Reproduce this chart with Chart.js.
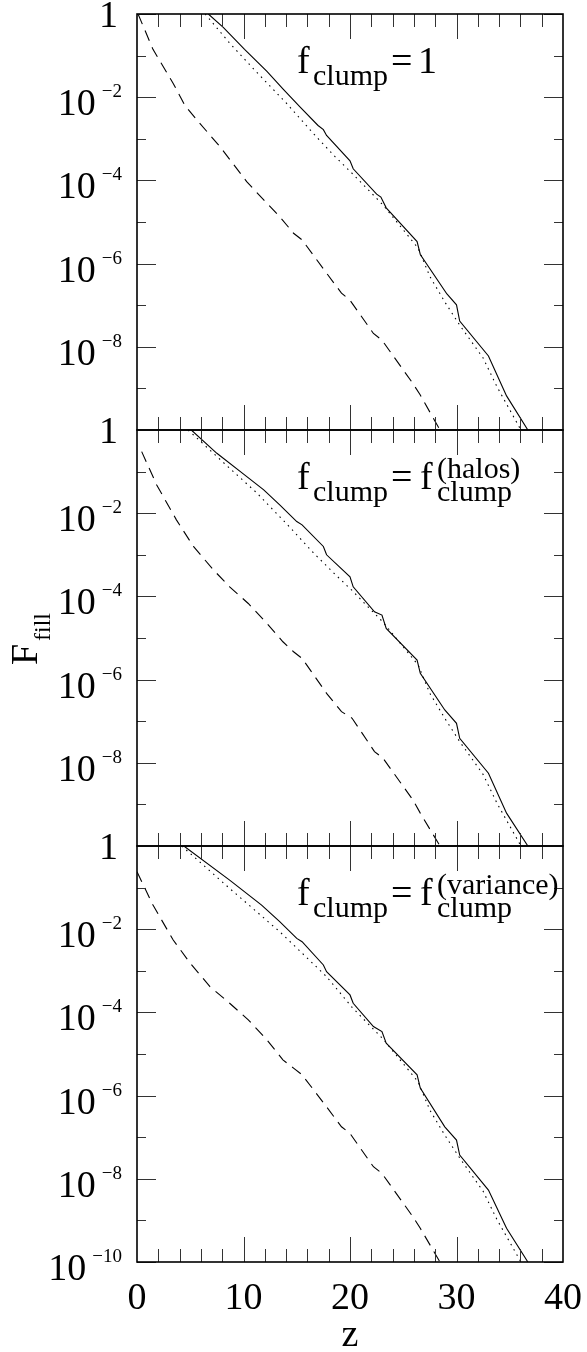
<!DOCTYPE html>
<html>
<head>
<meta charset="utf-8">
<script src="https://cdn.jsdelivr.net/npm/chart.js@4"></script>
<style>
  html, body { margin: 0; padding: 0; background: #fff; }
  #wrap { position: relative; width: 587px; height: 1352px; }
  #wrap canvas { position: absolute; left: 0; top: 0; }
</style>
</head>
<body>
<div id="wrap">
  <canvas id="panel1" width="587" height="1352"></canvas>
  <canvas id="panel2" width="587" height="1352"></canvas>
  <canvas id="panel3" width="587" height="1352"></canvas>
</div>
<script>
// axis ticks / labels
const xTickLabels = [0, 10, 20, 30, 40];
const xTickValues = [2, 4, 6, 8, 10, 12, 14, 16, 18, 20, 22, 24, 26, 28, 30, 32, 34, 36, 38];
const yTickExps = [0, -1, -2, -3, -4, -5, -6, -7, -8, -9, -10];
const yLabelExps = [0, -2, -4, -6, -8, -10];

// panel 1: f_clump = 1   (values are log10 F_fill)
const p1SolidZ = [6.7, 8.1, 10.1, 12.2, 13.7, 15.3, 17.0, 17.5, 17.8, 20.0, 20.3, 22.5, 22.9, 23.4, 26.3, 26.6, 29.1, 30.0, 30.3, 33.0, 34.7, 36.7];
const p1SolidLog = [0, -0.32, -0.85, -1.38, -1.80, -2.23, -2.68, -2.78, -2.92, -3.53, -3.72, -4.33, -4.40, -4.66, -5.47, -5.78, -6.73, -6.99, -7.38, -8.22, -9.18, -10];
const p1DotZ = [6.4, 8.7, 11.2, 14.05, 16.55, 18.6, 20.2, 23.1, 26.4, 27.5, 28.9, 30.3, 32.5, 33.8, 36.05];
const p1DotLog = [0, -0.70, -1.39, -2.15, -2.87, -3.43, -3.83, -4.59, -5.63, -6.31, -6.92, -7.48, -8.27, -8.96, -10];
const p1DashZ = [0.1, 1.5, 3.4, 4.5, 5.9, 7.8, 10.3, 11.9, 13.4, 14.7, 15.5, 17.8, 19.2, 20.0, 22.2, 23.0, 25.9, 26.6, 28.45];
const p1DashLog = [0, -0.85, -1.67, -2.2, -2.63, -3.19, -4.03, -4.47, -4.87, -5.27, -5.43, -6.23, -6.71, -6.88, -7.68, -7.84, -8.88, -9.16, -10];

// panel 2: f_clump = f_clump^(halos)
const p2SolidZ = [5.1, 7.5, 10.1, 11.9, 13.4, 15.0, 15.5, 17.5, 17.8, 20.0, 20.3, 22.3, 23.0, 23.4, 26.3, 26.6, 28.9, 30.0, 30.3, 33.0, 34.7, 36.7];
const p2SolidLog = [0, -0.56, -1.08, -1.44, -1.80, -2.20, -2.28, -2.80, -3.00, -3.53, -3.77, -4.37, -4.45, -4.77, -5.53, -5.85, -6.73, -7.05, -7.41, -8.25, -9.21, -10];
const p2DotZ = [4.8, 8.7, 11.2, 14.4, 16.55, 18.6, 20.2, 23.1, 26.4, 27.5, 28.9, 30.3, 32.5, 33.8, 36.05];
const p2DotLog = [0, -0.92, -1.50, -2.35, -2.95, -3.47, -3.86, -4.62, -5.65, -6.33, -6.93, -7.49, -8.28, -8.97, -10];
const p2DashZ = [0.44, 1.85, 3.7, 5.3, 7.2, 8.7, 10.45, 12.2, 13.7, 14.7, 15.5, 17.8, 19.2, 20.2, 22.3, 23.1, 25.9, 26.6, 28.45];
const p2DashLog = [-0.52, -1.32, -2.16, -2.80, -3.37, -3.77, -4.17, -4.65, -5.09, -5.33, -5.49, -6.33, -6.77, -6.93, -7.73, -7.89, -8.89, -9.21, -10];

// panel 3: f_clump = f_clump^(variance)
const p3SolidZ = [4.4, 8.7, 11.7, 13.4, 15.0, 15.5, 17.5, 17.8, 20.0, 20.3, 22.2, 23.0, 23.4, 26.3, 26.6, 28.9, 30.0, 30.3, 33.0, 34.7, 36.7];
const p3SolidLog = [0, -0.82, -1.42, -1.82, -2.22, -2.30, -2.86, -3.02, -3.58, -3.78, -4.34, -4.46, -4.74, -5.50, -5.82, -6.75, -7.07, -7.43, -8.27, -9.19, -10];
const p3DotZ = [4.2, 8.7, 13.4, 17.8, 20.2, 23.1, 26.4, 27.5, 28.9, 30.3, 32.5, 33.8, 36.05];
const p3DotLog = [0, -1.02, -2.06, -3.14, -3.88, -4.64, -5.67, -6.35, -6.95, -7.50, -8.30, -8.98, -10];
const p3DashZ = [0, 1.5, 3.4, 5.0, 6.85, 8.7, 10.45, 12.2, 13.7, 14.7, 15.5, 17.8, 19.2, 20.0, 22.2, 23.0, 25.9, 26.6, 28.45];
const p3DashLog = [-0.62, -1.42, -2.26, -2.82, -3.38, -3.78, -4.18, -4.66, -5.14, -5.34, -5.50, -6.27, -6.75, -6.91, -7.71, -7.87, -8.91, -9.19, -10];

const SERIF = '"Liberation Serif", "DejaVu Serif", serif';

function toPoints(zs, logs) {
    return zs.map((z, i) => ({ x: z, y: Math.pow(10, logs[i]) }));
}

function lineSet(zs, logs, dash) {
    return {
        data: toPoints(zs, logs),
        borderColor: '#000',
        borderWidth: 1.1,
        borderDash: dash,
        pointRadius: 0,
        tension: 0,
        fill: false
    };
}

function drawPow(ctx, x, y, exp) {
    ctx.textAlign = 'right';
    ctx.textBaseline = 'alphabetic';
    if (exp === 0) {
        ctx.font = '38px ' + SERIF;
        ctx.fillText('1', x - 4, y + 13);
        return;
    }
    const expText = '\u2212' + Math.abs(exp);
    ctx.font = '19px ' + SERIF;
    const w = ctx.measureText(expText).width;
    ctx.fillText(expText, x, y);
    ctx.font = '38px ' + SERIF;
    ctx.fillText('10', x - w - 6, y + 18);
}

function drawAnnot(ctx, top, kind) {
    ctx.textAlign = 'left';
    ctx.textBaseline = 'alphabetic';
    const big = '38px ' + SERIF, small = '30px ' + SERIF;
    ctx.font = big;
    ctx.fillText('f', 297, top + 59);
    ctx.fillText('=', 391, top + 59);
    ctx.font = small;
    ctx.fillText('clump', 313, top + 71);
    if (kind === 'one') {
        ctx.font = big;
        ctx.fillText('1', 418, top + 59);
    } else {
        ctx.font = big;
        ctx.fillText('f', 420, top + 59);
        ctx.font = small;
        ctx.fillText(kind === 'halos' ? '(halos)' : '(variance)', 437, top + 48);
        ctx.fillText('clump', 437, top + 71);
    }
}

const framePlugin = {
    id: 'frame',
    afterDatasetsDraw(chart, args, opts) {
        const ctx = chart.ctx;
        const { left, right, top, bottom } = chart.chartArea;
        const xs = chart.scales.x;
        const ys = chart.scales.y;
        ctx.save();

        // inward ticks on all four sides
        ctx.strokeStyle = '#333';
        ctx.lineWidth = 1;
        ctx.beginPath();
        yTickExps.forEach(e => {
            const y = Math.round(ys.getPixelForValue(Math.pow(10, e))) + 0.5;
            const len = e % 2 === 0 ? 19 : 9;
            ctx.moveTo(left, y); ctx.lineTo(left + len, y);
            ctx.moveTo(right, y); ctx.lineTo(right - len, y);
        });
        xTickValues.forEach(v => {
            const x = Math.round(xs.getPixelForValue(v)) + 0.5;
            const len = v % 10 === 0 ? 25 : 13;
            ctx.moveTo(x, top); ctx.lineTo(x, top + len);
            ctx.moveTo(x, bottom); ctx.lineTo(x, bottom - len);
        });
        ctx.stroke();

        ctx.strokeStyle = '#000';
        ctx.lineWidth = 1.6;
        ctx.strokeRect(left, top, right - left, bottom - top);

        // y labels
        ctx.fillStyle = '#000';
        yLabelExps.forEach(e => {
            if (e === -10 && !opts.bottomLabels) return;
            drawPow(ctx, 122, ys.getPixelForValue(Math.pow(10, e)), e);
        });

        if (opts.bottomLabels) {
            ctx.textAlign = 'center';
            ctx.font = '38px ' + SERIF;
            xTickLabels.forEach(v => {
                ctx.fillText(String(v), xs.getPixelForValue(v), bottom + 47);
            });
            ctx.fillText('z', (left + right) / 2, bottom + 84);
        }

        if (opts.yTitle) {
            ctx.save();
            ctx.translate(37, 665);
            ctx.rotate(-Math.PI / 2);
            ctx.textAlign = 'left';
            ctx.font = '38px ' + SERIF;
            ctx.fillText('F', 0, 0);
            ctx.font = '24px ' + SERIF;
            ctx.fillText('fill', 24, 13);
            ctx.restore();
        }

        drawAnnot(ctx, top, opts.annot);
        ctx.restore();
    }
};

function makePanel(id, padTop, padBottom, sets, frameOpts) {
    new Chart(document.getElementById(id), {
        type: 'line',
        data: { datasets: sets },
        options: {
            responsive: false,
            animation: false,
            events: [],
            layout: { padding: { left: 137, right: 24, top: padTop, bottom: padBottom } },
            scales: {
                x: { type: 'linear', min: 0, max: 40, display: false },
                y: { type: 'logarithmic', min: 1e-10, max: 1, display: false }
            },
            plugins: {
                legend: { display: false },
                tooltip: { enabled: false },
                frame: frameOpts
            }
        },
        plugins: [framePlugin]
    });
}

const solidDash = [];
const dotDash = [1.5, 4.5];
const dashDash = [11, 7];

makePanel('panel1', 14, 922, [
    lineSet(p1SolidZ, p1SolidLog, solidDash),
    lineSet(p1DotZ, p1DotLog, dotDash),
    lineSet(p1DashZ, p1DashLog, dashDash)
], { annot: 'one', bottomLabels: false, yTitle: false });

makePanel('panel2', 430, 506, [
    lineSet(p2SolidZ, p2SolidLog, solidDash),
    lineSet(p2DotZ, p2DotLog, dotDash),
    lineSet(p2DashZ, p2DashLog, dashDash)
], { annot: 'halos', bottomLabels: false, yTitle: true });

makePanel('panel3', 846, 90, [
    lineSet(p3SolidZ, p3SolidLog, solidDash),
    lineSet(p3DotZ, p3DotLog, dotDash),
    lineSet(p3DashZ, p3DashLog, dashDash)
], { annot: 'variance', bottomLabels: true, yTitle: false });
</script>
</body>
</html>
